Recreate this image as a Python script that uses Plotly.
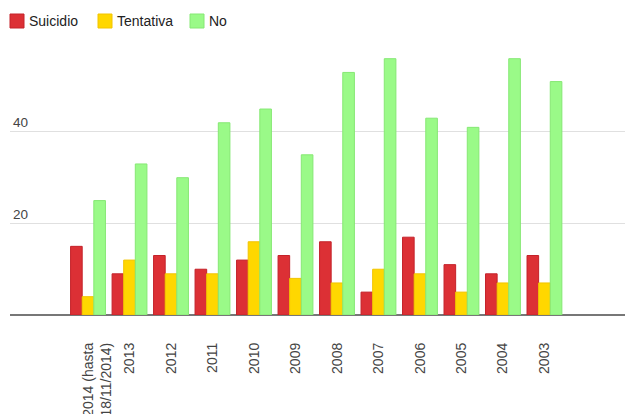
import plotly.graph_objects as go

categories = ["\u00a0<br>2014 (hasta<br>18/11/2014)", "2013", "2012", "2011", "2010", "2009",
              "2008", "2007", "2006", "2005", "2004", "2003"]
suicidio = [15, 9, 13, 10, 12, 13, 16, 5, 17, 11, 9, 13]
tentativa = [4, 12, 9, 9, 16, 8, 7, 10, 9, 5, 7, 7]
no = [25, 33, 30, 42, 45, 35, 53, 56, 43, 41, 56, 51]
y_ticks = [20, 40]

series = [
    ("Suicidio", suicidio, "#dc3035", "#c4222a"),
    ("Tentativa", tentativa, "#ffd700", "#f2c400"),
    ("No", no, "#9afa88", "#86e874"),
]

W, H = 633, 414
M = dict(l=2, r=9, t=42, b=107)   # page body has an 8px default margin; compensated here
PW, PH = W - M["l"] - M["r"], H - M["t"] - M["b"]


def px_x(fx):
    return (fx - M["l"]) / PW


def px_y(fy):
    return (H - M["b"] - fy) / PH


fig = go.Figure()
for name, vals, fill, line in series:
    fig.add_trace(go.Bar(
        name=name, x=list(range(len(categories))), y=vals,
        marker=dict(color=fill, line=dict(color=line, width=1)),
    ))

# legend drawn as swatches + real text labels (Google-chart style compact legend)
legend_x = [2, 90, 182]
for (name, _, fill, line), lx in zip(series, legend_x):
    fig.add_shape(type="rect", xref="paper", yref="paper",
                  x0=px_x(lx), x1=px_x(lx + 14), y0=px_y(20), y1=px_y(6),
                  fillcolor=fill, line=dict(color=line, width=1), layer="above")
    fig.add_annotation(text=name, xref="paper", yref="paper", x=px_x(lx + 17), y=px_y(13),
                       xanchor="left", yanchor="middle", showarrow=False,
                       font=dict(size=14, color="#222"))

fig.update_layout(
    width=W, height=H, margin=M,
    paper_bgcolor="white", plot_bgcolor="white",
    barmode="group", bargap=0.16, bargroupgap=0,
    font=dict(family="Liberation Sans, Arial, sans-serif", size=12, color="#444"),
    showlegend=False,
    xaxis=dict(
        tickmode="array", tickvals=list(range(len(categories))), ticktext=categories,
        tickangle=-90, range=[-1.88, 13.11], showgrid=False, zeroline=False,
        showline=False, ticks="", automargin=False, ticklabelstandoff=24,
        tickfont=dict(size=14, color="#444"),
    ),
    yaxis=dict(
        range=[0, 57.9], tickvals=y_ticks, ticktext=[str(v) for v in y_ticks],
        ticklabelposition="inside top", showgrid=True, gridcolor="#e0e0e0", gridwidth=1,
        zeroline=True, zerolinecolor="#777", zerolinewidth=2, showline=False,
        ticks="", automargin=False, tickfont=dict(size=13.5, color="#444"),
    ),
)

fig.write_html("out.html")
